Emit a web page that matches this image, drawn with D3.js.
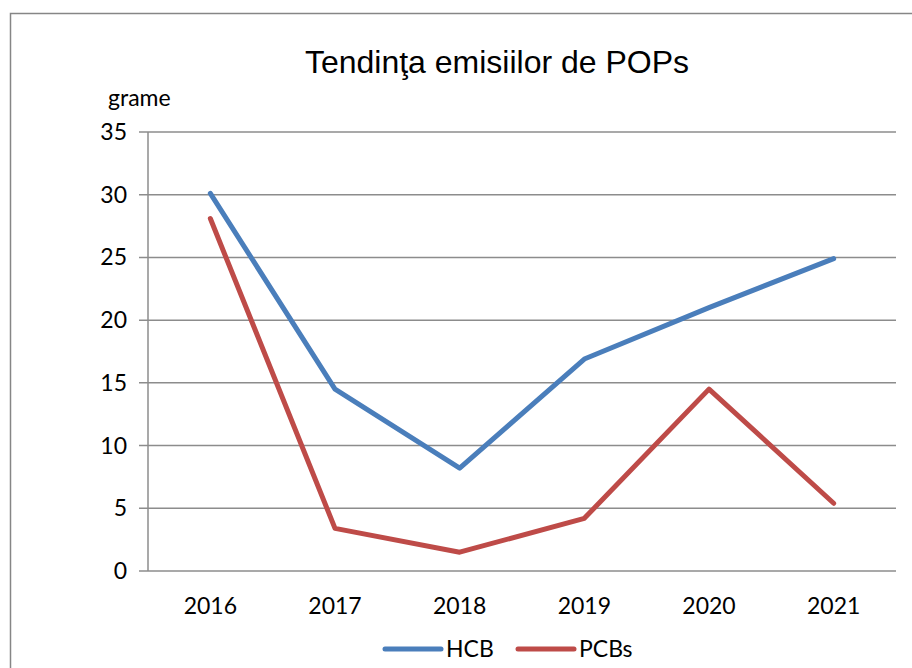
<!DOCTYPE html>
<html>
<head>
<meta charset="utf-8">
<script src="https://cdn.jsdelivr.net/npm/d3@7"></script>
<style>
  body { margin: 0; background: #fff; }
</style>
</head>
<body>
<div id="chart"></div>
<script>
const years = ["2016", "2017", "2018", "2019", "2020", "2021"];
const hcb = [30.1, 14.5, 8.2, 16.9, 21.0, 24.9];
const pcbs = [28.1, 3.4, 1.5, 4.2, 14.5, 5.4];
const yTicks = [0, 5, 10, 15, 20, 25, 30, 35];

const series = [
  { name: "HCB", values: hcb, color: "#4A7EBB" },
  { name: "PCBs", values: pcbs, color: "#BE4B48" }
];

const width = 912, height = 668;
const margin = { top: 132, right: 16, bottom: 97, left: 148 };
const font = "Lato, 'Open Sans', sans-serif";

const svg = d3.select("#chart").append("svg")
  .attr("width", width)
  .attr("height", height);

// chart frame
svg.append("rect")
  .attr("x", 10.5).attr("y", 13.5)
  .attr("width", width + 10).attr("height", height + 10)
  .attr("fill", "#fff")
  .attr("stroke", "#868686")
  .attr("stroke-width", 1.5);

const x = d3.scaleBand()
  .domain(years)
  .range([margin.left, width - margin.right]);

const y = d3.scaleLinear()
  .domain([0, 35])
  .range([height - margin.bottom, margin.top]);

// gridlines
svg.append("g")
  .selectAll("line")
  .data(yTicks)
  .enter().append("line")
  .attr("x1", margin.left - 9)
  .attr("x2", width - margin.right)
  .attr("y1", d => y(d))
  .attr("y2", d => y(d))
  .attr("stroke", "#8c8c8c")
  .attr("stroke-width", 1.5);

// y axis line
svg.append("line")
  .attr("x1", margin.left).attr("x2", margin.left)
  .attr("y1", y(35)).attr("y2", y(0))
  .attr("stroke", "#8c8c8c")
  .attr("stroke-width", 1.5);

// y tick labels
svg.append("g")
  .selectAll("text")
  .data(yTicks)
  .enter().append("text")
  .attr("x", margin.left - 21)
  .attr("y", d => y(d) + 8)
  .attr("text-anchor", "end")
  .style("font-family", font)
  .style("font-size", "23px")
  .text(d => d);

// x labels
svg.append("g")
  .selectAll("text")
  .data(years)
  .enter().append("text")
  .attr("x", d => x(d) + x.bandwidth() / 2)
  .attr("y", y(0) + 43)
  .attr("text-anchor", "middle")
  .style("font-family", font)
  .style("font-size", "23px")
  .text(d => d);

// unit label
svg.append("text")
  .attr("x", 108)
  .attr("y", 106)
  .style("font-family", font)
  .style("font-size", "23px")
  .text("grame");

// title
svg.append("text")
  .attr("x", 497)
  .attr("y", 73)
  .attr("text-anchor", "middle")
  .style("font-family", "'Liberation Sans', Arial, sans-serif")
  .style("font-size", "32px")
  .text("Tendinţa emisiilor de POPs");

// lines
const line = d3.line()
  .x((d, i) => x(years[i]) + x.bandwidth() / 2)
  .y(d => y(d));

svg.append("g")
  .selectAll("path")
  .data(series)
  .enter().append("path")
  .attr("d", d => line(d.values))
  .attr("fill", "none")
  .attr("stroke", d => d.color)
  .attr("stroke-width", 5)
  .attr("stroke-linejoin", "round")
  .attr("stroke-linecap", "round");

// legend
const legendX = [385, 518];
const legend = svg.append("g")
  .selectAll("g")
  .data(series)
  .enter().append("g")
  .attr("transform", (d, i) => `translate(${legendX[i]},649)`);

legend.append("line")
  .attr("x1", 0).attr("x2", 56)
  .attr("stroke", d => d.color)
  .attr("stroke-width", 5)
  .attr("stroke-linecap", "round");

legend.append("text")
  .attr("x", 61)
  .attr("y", 8)
  .style("font-family", font)
  .style("font-size", "23px")
  .text(d => d.name);
</script>
</body>
</html>
